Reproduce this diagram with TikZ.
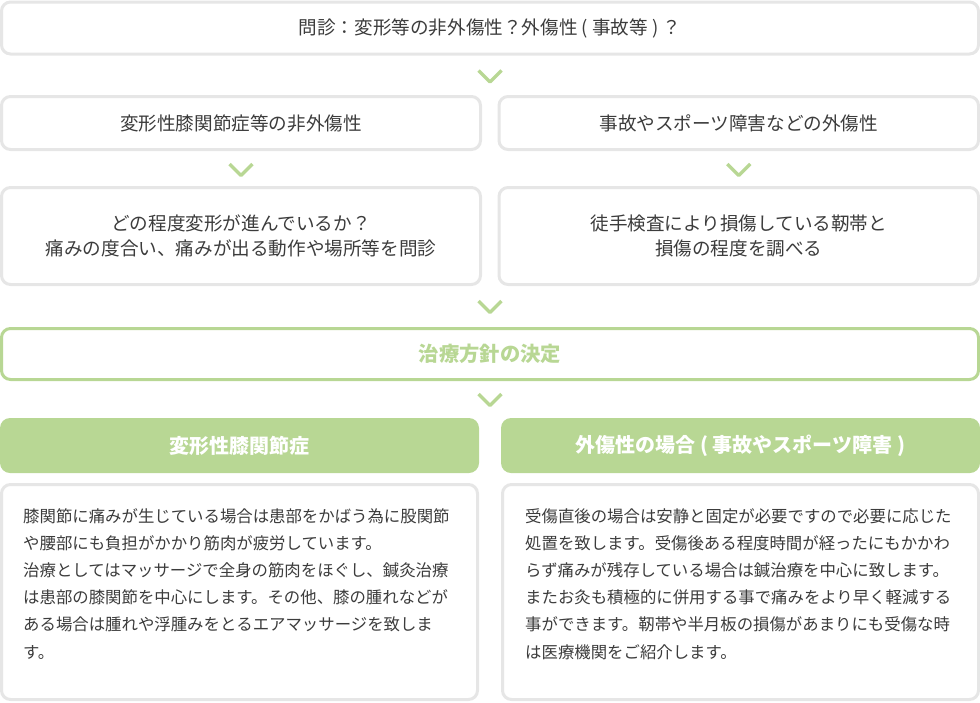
\documentclass[tikz,border=0pt]{standalone}
\usepackage{fontspec}
\setmainfont{Noto Sans CJK JP}
\usepackage{tikz}
\usetikzlibrary{positioning,calc}
\definecolor{boxgrey}{HTML}{E6E6E6}
\definecolor{leafgreen}{HTML}{B8D794}
\definecolor{txtgrey}{HTML}{3C3C3C}
\tikzset{greybox/.style={draw=boxgrey, line width=3pt, rounded corners=9pt, fill=white, inner sep=0pt, text=txtgrey, align=center, font=\fontsize{18.6}{25.5}\selectfont},
greenbox/.style={draw=leafgreen, line width=3pt, rounded corners=9pt, fill=white, inner sep=0pt, text=leafgreen, font=\bfseries\fontsize{20.3}{24}\selectfont},
headbox/.style={fill=leafgreen, rounded corners=10pt, inner sep=0pt, text=white, font=\bfseries\fontsize{20}{24}\selectfont},
bodytext/.style={inner sep=0pt, text=txtgrey, align=left, font=\fontsize{16.4}{27.2}\selectfont},
%chevron pointing down, tip at the coordinate
chevron/.style={draw=leafgreen, line width=3.5pt, line join=round}}
\newcommand{\chev}[1]{\draw[chevron] ($(#1)+(-11.5,-11.5)$) -- (#1) -- ($(#1)+(11.5,-11.5)$);}

\begin{document}
\begin{tikzpicture}[x=1pt,y=-1pt]
  \useasboundingbox (0,0) rectangle (980,702);

  \node[greybox, minimum width=977pt, minimum height=52pt] at (490,28) (q) {問診：変形等の非外傷性？外傷性 ( 事故等 ) ？};

  \node[greybox, minimum width=479pt, minimum height=53pt] at (241,123) (nt) {変形性膝関節症等の非外傷性};
  \node[greybox, minimum width=479.5pt, minimum height=53pt] at (738.75,123) (tr) {事故やスポーツ障害などの外傷性};

  \node[greybox, minimum width=479pt, minimum height=97pt] at (241,236) (nq) {どの程度変形が進んでいるか？\\痛みの度合い、痛みが出る動作や場所等を問診};
  \node[greybox, minimum width=479.5pt, minimum height=97pt] at (738.75,236) (tq) {徒手検査により損傷している靭帯と\\損傷の程度を調べる};

  \node[greenbox, minimum width=977pt, minimum height=51pt] at (490,354) (pl) {治療方針の決定};

  \node[headbox, minimum width=479pt, minimum height=55pt] at (239.5,445.5) (kh) {変形性膝関節症};
  \node[headbox, minimum width=479pt, minimum height=55pt] at (740.5,445.5) (th) {外傷性の場合 ( 事故やスポーツ障害 )};

  \node[greybox, minimum width=476pt, minimum height=215pt] at (239.5,592) (kb) {};
  \node[greybox, minimum width=476pt, minimum height=215pt] at (740.5,592) (tb) {};

  \node[bodytext, anchor=north west] at (23,508) (kt) {膝関節に痛みが生じている場合は患部をかばう為に股関節\\や腰部にも負担がかかり筋肉が疲労しています。\\治療としてはマッサージで全身の筋肉をほぐし、鍼灸治療\\は患部の膝関節を中心にします。その他、膝の腫れなどが\\ある場合は腫れや浮腫みをとるエアマッサージを致しま\\す。};
  \node[bodytext, anchor=north west] at (525,508) (tt) {受傷直後の場合は安静と固定が必要ですので必要に応じた\\処置を致します。受傷後ある程度時間が経ったにもかかわ\\らず痛みが残存している場合は鍼治療を中心に致します。\\またお灸も積極的に併用する事で痛みをより早く軽減する\\事ができます。靭帯や半月板の損傷があまりにも受傷な時\\は医療機関をご紹介します。};

  \coordinate (c1) at (490,82);
  \coordinate (c2) at (241,175.5);
  \coordinate (c3) at (738.75,175.5);
  \coordinate (c4) at (490,312.5);
  \coordinate (c5) at (490,405.5);
  \chev{c1}
  \chev{c2}
  \chev{c3}
  \chev{c4}
  \chev{c5}

\end{tikzpicture}
\end{document}
